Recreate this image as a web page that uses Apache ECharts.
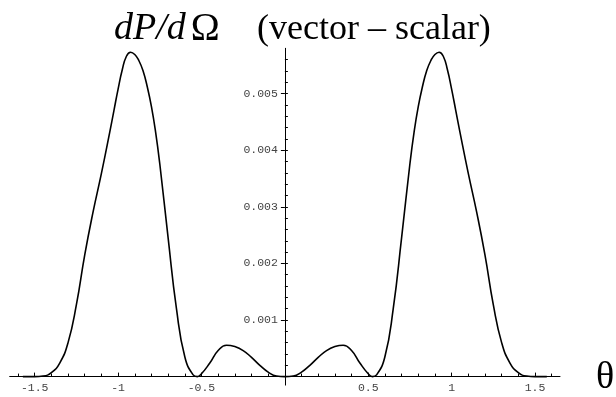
<!DOCTYPE html>
<html>
<head>
<meta charset="utf-8">
<script src="https://cdn.jsdelivr.net/npm/echarts@6/dist/echarts.min.js"></script>
<style>
  html, body { margin: 0; padding: 0; background: #fff; }
  #chart { width: 616px; height: 397px; }
</style>
</head>
<body>
<div id="chart"></div>
<script>
// curve (theta, dP/dOmega)
const theta = [
  -1.571, -1.50, -1.45, -1.40, -1.35, -1.30, -1.25, -1.20, -1.15, -1.10,
  -1.05, -1.025, -1.00, -0.975, -0.95, -0.925, -0.90, -0.875, -0.85, -0.825,
  -0.80, -0.775, -0.75, -0.70, -0.65,
  -0.60, -0.55, -0.525, -0.50, -0.45, -0.40, -0.35, -0.30, -0.25, -0.20,
  -0.15, -0.10, -0.05, 0,
  0.05, 0.10, 0.15, 0.20, 0.25, 0.30, 0.35, 0.40, 0.45, 0.50,
  0.525, 0.55, 0.60, 0.65, 0.70, 0.75, 0.775, 0.80, 0.825, 0.85,
  0.875, 0.90, 0.925, 0.95, 0.975, 1.00, 1.025, 1.05,
  1.10, 1.15, 1.20, 1.25, 1.30, 1.35, 1.40, 1.45, 1.50, 1.571
];
const value = [
  0, 0, 0.00001, 0.00007, 0.00024, 0.00060, 0.00127, 0.00215, 0.00291, 0.00359,
  0.00432, 0.00470, 0.00508, 0.00542, 0.00566, 0.00573, 0.00569, 0.00558, 0.00540, 0.00512,
  0.00477, 0.00432, 0.00376, 0.00245, 0.00120,
  0.00035, 0.00003, 0, 0.00005, 0.00024, 0.00046, 0.000555, 0.00053, 0.00046, 0.00034,
  0.00020, 0.00008, 0.00001, 0,
  0.00001, 0.00008, 0.00020, 0.00034, 0.00046, 0.00053, 0.000555, 0.00046, 0.00024, 0.00005,
  0, 0.00003, 0.00035, 0.00120, 0.00245, 0.00376, 0.00432, 0.00477, 0.00512, 0.00540,
  0.00558, 0.00569, 0.00573, 0.00566, 0.00542, 0.00508, 0.00470, 0.00432,
  0.00359, 0.00291, 0.00215, 0.00127, 0.00060, 0.00024, 0.00007, 0.00001, 0, 0
];

const xLabels = [-1.5, -1, -0.5, 0.5, 1, 1.5];
const xMinor = [-1.6, -1.4, -1.3, -1.2, -1.1, -0.9, -0.8, -0.7, -0.6, -0.4, -0.3, -0.2, -0.1,
  0.1, 0.2, 0.3, 0.4, 0.6, 0.7, 0.8, 0.9, 1.1, 1.2, 1.3, 1.4, 1.6];
const yLabels = [0.001, 0.002, 0.003, 0.004, 0.005];
const yMinor = [0.0002, 0.0004, 0.0006, 0.0008, 0.0010, 0.0012, 0.0014, 0.0016, 0.0018, 0.0020,
  0.0022, 0.0024, 0.0026, 0.0028, 0.0030, 0.0032, 0.0034, 0.0036, 0.0038, 0.0040,
  0.0042, 0.0044, 0.0046, 0.0048, 0.0050, 0.0052, 0.0054, 0.0056];

const X_MIN = -1.65, X_MAX = 1.65;
const Y_MIN = -0.00015, Y_MAX = 0.0058;

// grid box in pixels, and where the zero lines sit inside it
const GRID = { left: 9.7, right: 56, top: 48.3, bottom: 11.9 };
const Y_AXIS_SHIFT = -275.2;  // x = 0 line, measured from the grid's left edge
const X_AXIS_SHIFT = -8.5;    // y = 0 line, measured from the grid's bottom edge

const tickFont = { fontFamily: 'Liberation Mono', fontSize: 11.5, color: '#444' };
const black = { color: '#000', width: 1 };
const serif = { fontFamily: 'Liberation Serif', fontWeight: 'normal', color: '#000' };

const chart = echarts.init(document.getElementById('chart'), null, { renderer: 'canvas' });

chart.setOption({
  animation: false,
  backgroundColor: '#fff',
  title: [{
    left: 109,
    top: 5,
    text: '{i|dP/d} {n|\u03A9}',
    textStyle: {
      rich: {
        i: { ...serif, fontStyle: 'italic', fontSize: 38 },
        n: { ...serif, fontSize: 39 }
      }
    }
  }, {
    left: 252,
    top: 7,
    text: '(vector \u2013 scalar)',
    textStyle: { ...serif, fontSize: 36 }
  }],
  graphic: [{
    type: 'text',
    left: 596,
    top: 359,
    style: { text: '\u03B8', font: '38px "Liberation Serif"', fill: '#000' }
  }],
  grid: { ...GRID, outerBoundsMode: 'none', containLabel: false },
  xAxis: [{
    type: 'value', min: X_MIN, max: X_MAX, position: 'bottom', offset: X_AXIS_SHIFT,
    axisLine: { onZero: false, lineStyle: black },
    axisTick: { inside: true, length: 4, lineStyle: black, customValues: xLabels },
    axisLabel: { customValues: xLabels, margin: 5, ...tickFont, formatter: v => String(v) },
    splitLine: { show: false }
  }, {
    type: 'value', min: X_MIN, max: X_MAX, position: 'bottom', offset: X_AXIS_SHIFT,
    axisLine: { show: false, onZero: false },
    axisTick: { inside: true, length: 3, lineStyle: black, customValues: xMinor },
    axisLabel: { show: false },
    splitLine: { show: false }
  }],
  yAxis: [{
    type: 'value', min: Y_MIN, max: Y_MAX, position: 'left', offset: Y_AXIS_SHIFT,
    axisLine: { onZero: false, lineStyle: black },
    axisTick: { inside: false, length: 4, lineStyle: black, customValues: yLabels },
    axisLabel: { customValues: yLabels, margin: 7, ...tickFont, formatter: v => v.toFixed(3) },
    splitLine: { show: false }
  }, {
    type: 'value', min: Y_MIN, max: Y_MAX, position: 'left', offset: Y_AXIS_SHIFT,
    axisLine: { show: false, onZero: false },
    axisTick: { inside: true, length: 3, lineStyle: black, customValues: yMinor },
    axisLabel: { show: false },
    splitLine: { show: false }
  }],
  series: [{
    type: 'line',
    xAxisIndex: 0,
    yAxisIndex: 0,
    data: theta.map((t, i) => [t, value[i]]),
    showSymbol: false,
    smooth: 0.5,
    lineStyle: { color: '#000', width: 1.6 },
    clip: false
  }]
});
</script>
</body>
</html>
